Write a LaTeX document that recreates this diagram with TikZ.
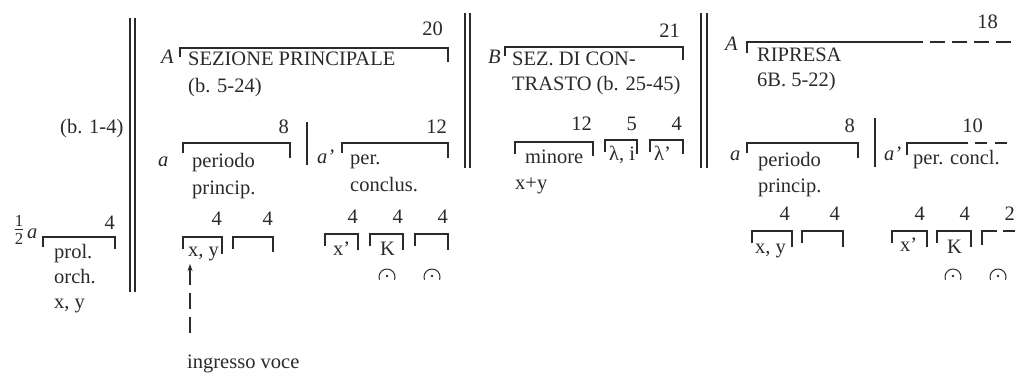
\documentclass[tikz,border=0pt]{standalone}
\usepackage{fontspec}
\usepackage{amsmath}
\setmainfont{Liberation Serif}
\usetikzlibrary{arrows.meta}
\definecolor{ink}{HTML}{2A2A2A}
\newcommand\dfs{\fontsize{20.5}{24}\selectfont}
\begin{document}
\begin{tikzpicture}[x=1pt,y=1pt,yscale=-1,
  every node/.style={text=ink},
  txt/.style={inner sep=0pt,anchor=base west,font=\dfs},
  num/.style={inner sep=0pt,anchor=base east,font=\dfs},
  lbl/.style={inner sep=0pt,anchor=base west,font=\dfs\itshape},
  br/.style={draw=ink,line width=1.1pt},
  bar/.style={draw=ink,line width=1.4pt},
  dbr/.style={br,dash pattern=on 15pt off 7pt},
  ferm/.style={br,line width=1pt}]
\fill[white] (0,0) rectangle (1016,376);
\useasboundingbox (0,0) rectangle (1016,376);

% ---------- introduction ----------
\node[txt] (b14) at (60,133) {(b. 1-4)};
\node[inner sep=0pt,font=\fontsize{24}{28}\selectfont] (half) at (19,230) {$\frac{\text{1}}{\text{2}}$};
\node[lbl] (a0) at (27,238) {a};
\draw[br] (43,247) -- (43,237) -- (115,237) -- (115,249);
\node[num] (n0) at (115,229) {4};
\node[txt] (prol) at (54,258) {prol.};
\node[txt] (orch) at (54,283) {orch.};
\node[txt] (xy0) at (54,308) {x, y};
\draw[bar] (130,18) -- (130,292);
\draw[bar] (135,18) -- (135,292);

% ---------- A: sezione principale ----------
\node[lbl] (A1) at (161,63) {A};
\draw[br] (180,57) -- (180,48) -- (448,48) -- (448,62);
\node[num] (n20) at (443,35) {20};
\node[txt] (sez) at (188,65) {SEZIONE PRINCIPALE};
\node[txt] (b524) at (188,92) {(b. 5-24)};
\node[lbl] (a1) at (158,166) {a};
\draw[br] (183,153) -- (183,143) -- (290,143) -- (290,158);
\node[num] (n8) at (289,133) {8};
\node[txt] (per1) at (192,167) {periodo};
\node[txt] (pri1) at (192,194) {princip.};
\draw[br] (307,122) -- (307,165);
\node[lbl] (ap1) at (317,163) {a’};
\draw[br] (342,153) -- (342,143) -- (448,143) -- (448,158);
\node[num] (n12) at (447,133) {12};
\node[txt] (per2) at (350,164) {per.};
\node[txt] (con2) at (350,191) {conclus.};

\node[num] (n4a) at (222,225) {4};
\node[num] (n4b) at (273,225) {4};
\draw[br] (183,249) -- (183,237) -- (222,237) -- (222,254);
\draw[br] (233,249) -- (233,237) -- (273,237) -- (273,252);
\node[txt] (xy1) at (188,256) {x, y};
\node[txt] (ingr) at (187,368) {ingresso voce};
\coordinate (arrS) at (190,333);
\coordinate (arrE) at (190,264);
\draw[br,dash pattern=on 16pt off 8pt,-{Stealth[length=7pt,width=5pt]}] (arrS) -- (arrE);

\node[num] (n4c) at (358,223) {4};
\node[num] (n4d) at (403,223) {4};
\node[num] (n4e) at (448,223) {4};
\draw[br] (325,246) -- (325,234) -- (358,234) -- (358,250);
\draw[br] (370,246) -- (370,234) -- (403,234) -- (403,250);
\draw[br] (415,246) -- (415,234) -- (448,234) -- (448,250);
\node[txt] (xp1) at (333,255) {x’};
\node[txt] (K1) at (380,255) {K};
\draw[ferm] (387,277) ++(160:8) arc[start angle=160,end angle=380,radius=8];
\fill[ink] (387,276) circle[radius=1.4];
\draw[ferm] (432,277) ++(160:8) arc[start angle=160,end angle=380,radius=8];
\fill[ink] (432,276) circle[radius=1.4];

\draw[bar] (465,13) -- (465,168);
\draw[bar] (470,13) -- (470,168);

% ---------- B: sezione di contrasto ----------
\node[lbl] (B) at (488,63) {B};
\draw[br] (505,56) -- (505,47) -- (683,47) -- (683,60);
\node[num] (n21) at (680,37) {21};
\node[txt] (sdc) at (512,65) {SEZ. DI CON-};
\node[txt] (tra) at (512,90) {TRASTO (b. 25-45)};
\node[num] (n12b) at (592,130) {12};
\node[num] (n5) at (637,130) {5};
\node[num] (n4f) at (682,130) {4};
\draw[br] (515,154) -- (515,142) -- (593,142) -- (593,156);
\draw[br] (605,152) -- (605,140) -- (637,140) -- (637,154);
\draw[br] (650,152) -- (650,140) -- (683,140) -- (683,154);
\node[txt] (min) at (525,163) {minore};
\node[txt] (lam) at (609,160) {λ, i};
\node[txt] (lamp) at (654,160) {λ’};
\node[txt] (xpy) at (515,189) {x+y};

\draw[bar] (701,13) -- (701,168);
\draw[bar] (707,13) -- (707,168);

% ---------- A: ripresa ----------
\node[lbl] (A2) at (725,50) {A};
\draw[br] (747,53) -- (747,42) -- (923,42);
\draw[dbr] (930,42) -- (1011,42);
\node[num] (n18) at (998,28) {18};
\node[txt] (rip) at (757,61) {RIPRESA};
\node[txt] (b522) at (757,86) {6B. 5-22)};
\node[lbl] (a2) at (730,160) {a};
\draw[br] (747,153) -- (747,143) -- (858,143) -- (858,158);
\node[num] (n8b) at (855,132) {8};
\node[txt] (per3) at (758,166) {periodo};
\node[txt] (pri3) at (758,192) {princip.};
\draw[br] (875,118) -- (875,167);
\node[lbl] (ap2) at (884,160) {a’};
\draw[br] (907,155) -- (907,143) -- (968,143);
\draw[br,dash pattern=on 12pt off 8pt] (975,143) -- (1008,143);
\node[num] (n10) at (983,132) {10};
\node[txt] (pc) at (913,164) {per. concl.};

\node[num] (n4g) at (790,220) {4};
\node[num] (n4h) at (840,220) {4};
\node[num] (n4i) at (925,220) {4};
\node[num] (n4j) at (970,220) {4};
\node[num] (n2) at (1015,220) {2};
\draw[br] (752,243) -- (752,231) -- (792,231) -- (792,247);
\draw[br] (802,243) -- (802,231) -- (843,231) -- (843,247);
\draw[br] (892,243) -- (892,231) -- (927,231) -- (927,247);
\draw[br] (937,243) -- (937,231) -- (971,231) -- (971,247);
\draw[br] (982,245) -- (982,231) -- (997,231);
\draw[br] (1003,231) -- (1015,231);
\node[txt] (xy3) at (755,253) {x, y};
\node[txt] (xp3) at (900,251) {x’};
\node[txt] (K3) at (947,253) {K};
\draw[ferm] (953,277) ++(160:8) arc[start angle=160,end angle=380,radius=8];
\fill[ink] (953,276) circle[radius=1.4];
\draw[ferm] (998,277) ++(160:8) arc[start angle=160,end angle=380,radius=8];
\fill[ink] (998,276) circle[radius=1.4];
\end{tikzpicture}
\end{document}
